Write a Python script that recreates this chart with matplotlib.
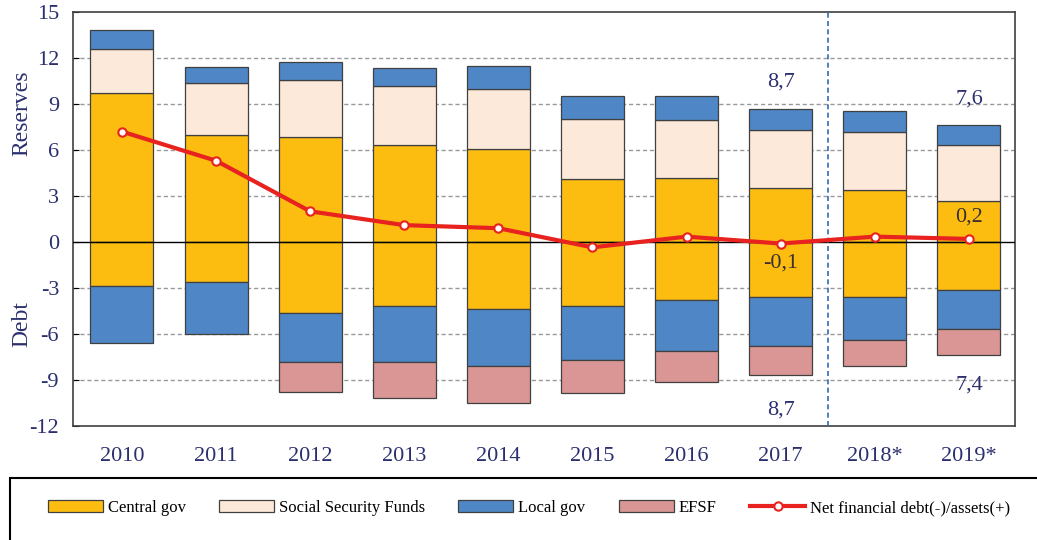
import numpy as np
import matplotlib
matplotlib.use("Agg")
import matplotlib.pyplot as plt
from matplotlib.patches import Rectangle

years = ["2010", "2011", "2012", "2013", "2014", "2015", "2016", "2017", "2018*", "2019*"]

# reserves (positive side)
central_pos = [9.7, 7.0, 6.85, 6.3, 6.05, 4.1, 4.2, 3.55, 3.4, 2.65]
ssf_pos = [2.9, 3.35, 3.7, 3.9, 3.95, 3.9, 3.75, 3.75, 3.75, 3.7]
local_pos = [1.2, 1.05, 1.2, 1.15, 1.5, 1.5, 1.55, 1.4, 1.4, 1.25]

# debt (negative side)
central_neg = [-2.9, -2.6, -4.6, -4.2, -4.4, -4.2, -3.8, -3.6, -3.6, -3.1]
local_neg = [-3.7, -3.4, -3.2, -3.6, -3.7, -3.5, -3.3, -3.2, -2.8, -2.6]
efsf_neg = [0.0, 0.0, -2.0, -2.4, -2.4, -2.15, -2.05, -1.9, -1.7, -1.7]

net = [7.2, 5.3, 2.0, 1.1, 0.9, -0.35, 0.35, -0.1, 0.35, 0.2]

# text labels: (bar index, y, text, colour)
notes = [(7, 10.45, "8,7", "#2b2f6e"), (9, 9.3, "7,6", "#2b2f6e"),
         (9, 1.65, "0,2", "#3a3030"), (7, -1.4, "-0,1", "#3a3030"),
         (7, -10.95, "8,7", "#2b2f6e"), (9, -9.3, "7,4", "#2b2f6e")]

c_central = "#FDBD10"
c_ssf = "#FDE9DA"
c_local = "#4F86C6"
c_efsf = "#D99694"
c_line = "#E8221E"
navy = "#2b2f6e"
edge = "#404040"

plt.rcParams['font.family'] = ['Liberation Serif', 'DejaVu Serif']
plt.rcParams['axes.unicode_minus'] = False

fig = plt.figure(figsize=(10.37, 5.40), dpi=100)
ax = fig.add_axes([0.0704, 0.2111, 0.9084, 0.7667])

x = np.arange(len(years))
w = 0.67
cp = np.array(central_pos)
sp = np.array(ssf_pos)
lp = np.array(local_pos)
cn = np.array(central_neg)
ln = np.array(local_neg)
en = np.array(efsf_neg)

kw = dict(width=w, edgecolor=edge, linewidth=0.9, zorder=3)
b1 = ax.bar(x, cp, color=c_central, label="Central gov", **kw)
b2 = ax.bar(x, sp, bottom=cp, color=c_ssf, label="Social Security Funds", **kw)
b3 = ax.bar(x, lp, bottom=cp + sp, color=c_local, label="Local gov", **kw)
ax.bar(x, cn, color=c_central, **kw)
ax.bar(x, ln, bottom=cn, color=c_local, **kw)
mask = en != 0
b4 = ax.bar(x[mask], en[mask], bottom=(cn + ln)[mask], color=c_efsf, label="EFSF", **kw)

l1, = ax.plot(x, net, color=c_line, lw=3, marker="o", ms=6, mfc="white",
              mec=c_line, mew=1.5, zorder=5, label="Net financial debt(-)/assets(+)")

for i, yv, txt, col in notes:
    ax.text(x[i], yv, txt, ha="center", va="center", fontsize=16, color=col, zorder=6)

ax.axhline(0, color="black", lw=1, zorder=4)
ax.axvline(7.5, color="#2f6db5", lw=1.2, ls=(0, (3, 2)), zorder=4)
for yv in [-9, -6, -3, 3, 6, 9, 12]:
    ax.axhline(yv, color="#999999", lw=1, ls=(0, (3, 2)), zorder=1)

ax.set_xlim(-0.52, 9.49)
ax.set_ylim(-12, 15)
ax.set_yticks(np.arange(-12, 16, 3))
ax.set_xticks(x)
ax.set_xticklabels(years)
ax.tick_params(axis="y", direction="in", length=4, labelsize=16, labelcolor=navy, pad=10)
ax.tick_params(axis="x", length=0, labelsize=16, labelcolor=navy, pad=15)
for s in ax.spines.values():
    s.set_color("#404040")
    s.set_linewidth(1.2)

fig.text(0.021, 0.79, "Reserves", rotation=90, ha="center", va="center", fontsize=17, color=navy)
fig.text(0.021, 0.40, "Debt", rotation=90, ha="center", va="center", fontsize=17, color=navy)

# legend box at the bottom
fig.patches.append(Rectangle((0.0096, -0.05), 1.0, 0.165, transform=fig.transFigure,
                             fill=False, edgecolor="black", lw=1.5))
fig.legend([b1, b2, b3, b4, l1],
           ["Central gov", "Social Security Funds", "Local gov", "EFSF",
            "Net financial debt(-)/assets(+)"],
           loc="center", bbox_to_anchor=(0.51, 0.059), ncol=5, frameon=False,
           fontsize=12, handlelength=3.3, handleheight=0.7, columnspacing=2.0,
           handletextpad=0.3)

fig.savefig("out.png", dpi=100)
